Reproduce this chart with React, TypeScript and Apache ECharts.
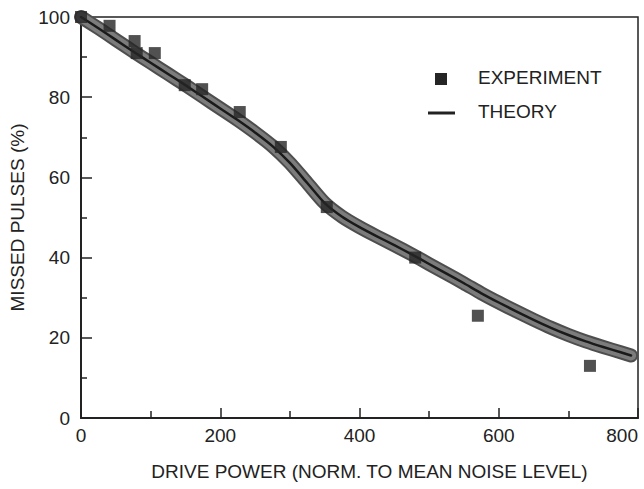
import React, { useEffect, useRef } from "react";
import * as echarts from "echarts";

const expX = [0, 41, 77, 80, 106, 149, 174, 228, 287, 353, 480, 570, 731];
const expY = [100, 97.8, 94, 91, 91, 83, 82, 76.3, 67.6, 52.6, 40, 25.5, 13];

const theoryX = [0, 25, 50, 75, 100, 125, 150, 175, 200, 225, 250, 275, 300, 325, 350, 375, 400, 425, 450, 475, 500, 525, 550, 575, 600, 625, 650, 675, 700, 725, 750, 775, 790];
const theoryY = [100, 97.2, 94.3, 91.4, 88.6, 85.8, 83, 80.1, 77.2, 74.3, 71.2, 67.8, 63.6, 58.6, 53.6, 50.2, 47.6, 45.3, 43.1, 40.8, 38.4, 36, 33.6, 31.1, 28.8, 26.6, 24.5, 22.5, 20.7, 19.1, 17.7, 16.4, 15.6];

const xTicks = [0, 200, 400, 600, 800];
const yTicks = [0, 20, 40, 60, 80, 100];

const FONT = "Liberation Sans";
const INK = "#222";

export default function App() {
  const ref = useRef<HTMLDivElement>(null);
  useEffect(() => {
    if (!ref.current) return;
    const chart = echarts.init(ref.current, undefined, { renderer: "svg" });
    const theory = theoryX.map((x, i) => [x, theoryY[i]]);
    const exp = expX.map((x, i) => [x, expY[i]]);
    const lineBase = {
      type: "line",
      data: theory,
      showSymbol: false,
      symbol: "none",
      smooth: 0.25,
    };
    chart.setOption({
      animation: false,
      backgroundColor: "#fff",
      grid: {
        left: 81,
        right: 6,
        top: 17,
        bottom: 71,
        show: true,
        borderColor: INK,
        borderWidth: 1.5,
      },
      xAxis: {
        type: "value",
        min: xTicks[0],
        max: xTicks[xTicks.length - 1],
        interval: 200,
        name: "DRIVE POWER (NORM. TO MEAN NOISE LEVEL)",
        nameLocation: "middle",
        nameGap: 44,
        nameTextStyle: { fontFamily: FONT, fontSize: 19, color: INK, padding: [0, 0, 0, 20] },
        axisLine: { show: true, lineStyle: { color: INK, width: 2 } },
        axisTick: { show: true, inside: true, length: 10, lineStyle: { color: INK, width: 1.5 } },
        minorTick: { show: true, splitNumber: 2, length: 7, lineStyle: { color: INK, width: 1.5 } },
        splitLine: { show: false },
        axisLabel: { fontFamily: FONT, fontSize: 19, color: INK, margin: 8, alignMaxLabel: "right" },
      },
      yAxis: {
        type: "value",
        min: yTicks[0],
        max: yTicks[yTicks.length - 1],
        interval: 20,
        name: "MISSED PULSES (%)",
        nameLocation: "middle",
        nameGap: 48,
        nameTextStyle: { fontFamily: FONT, fontSize: 19, color: INK },
        axisLine: { show: true, lineStyle: { color: INK, width: 2 } },
        axisTick: { show: true, inside: true, length: 11, lineStyle: { color: INK, width: 1.5 } },
        minorTick: { show: true, splitNumber: 2, length: 6, lineStyle: { color: INK, width: 1.5 } },
        splitLine: { show: false },
        axisLabel: { fontFamily: FONT, fontSize: 19, color: INK, margin: 11 },
      },
      series: [
        {
          ...lineBase,
          name: "THEORY band",
          lineStyle: { color: "#4e4e4e", width: 14, cap: "round", join: "round" },
          z: 2,
        },
        {
          ...lineBase,
          name: "THEORY band inner",
          lineStyle: { color: "#7c7c7c", width: 10, cap: "round", join: "round" },
          z: 2,
        },
        {
          ...lineBase,
          name: "THEORY",
          lineStyle: { color: "#1a1a1a", width: 2.5, cap: "round", join: "round" },
          z: 3,
        },
        {
          name: "EXPERIMENT",
          type: "scatter",
          data: exp,
          symbol: "rect",
          symbolSize: 12,
          itemStyle: { color: "#252525" },
          z: 4,
        },
      ],
      graphic: [
        { type: "rect", shape: { x: 435, y: 73, width: 12, height: 12 }, style: { fill: "#252525" } },
        {
          type: "text",
          x: 478,
          y: 77,
          style: { text: "EXPERIMENT", fontFamily: FONT, fontSize: 19, fill: INK, verticalAlign: "middle" },
        },
        { type: "line", shape: { x1: 428, y1: 113, x2: 455, y2: 113 }, style: { stroke: INK, lineWidth: 3 } },
        {
          type: "text",
          x: 478,
          y: 111,
          style: { text: "THEORY", fontFamily: FONT, fontSize: 19, fill: INK, verticalAlign: "middle" },
        },
      ],
    });
    return () => chart.dispose();
  }, []);
  return (
    <div
      ref={ref}
      style={{ position: "fixed", left: 0, top: 0, width: 644, height: 489 }}
    />
  );
}
